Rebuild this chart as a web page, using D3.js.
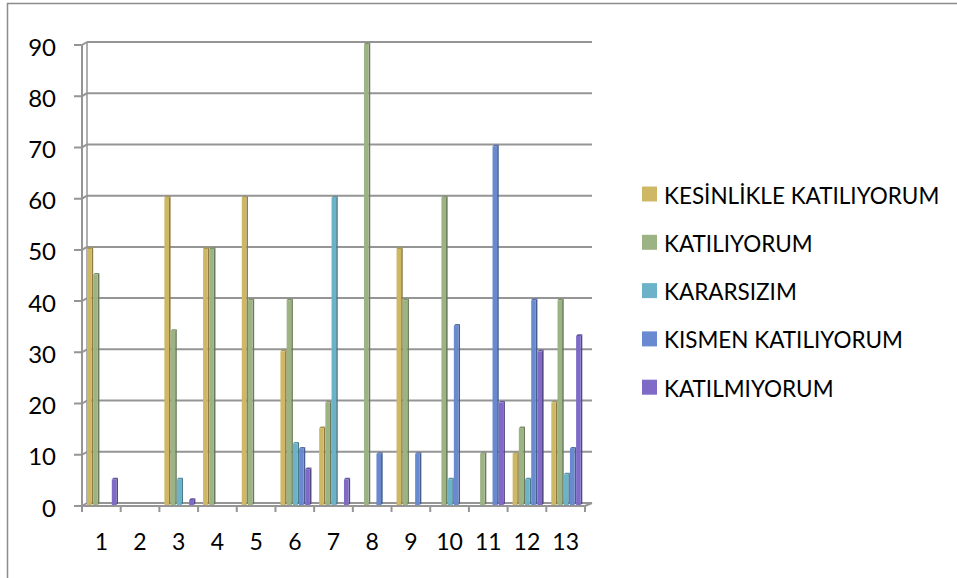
<!DOCTYPE html>
<html>
<head>
<meta charset="utf-8">
<script src="https://cdn.jsdelivr.net/npm/d3@7"></script>
<style>
  body { margin: 0; background: #fff; }
  text { font-family: Lato, "Noto Sans", sans-serif; fill: #000; }
</style>
</head>
<body>
<svg id="chart" width="957" height="578"></svg>
<script>
// ------ DATA ------
const categories = ["1","2","3","4","5","6","7","8","9","10","11","12","13"]
const series_names = ["KESİNLİKLE KATILIYORUM", "KATILIYORUM", "KARARSIZIM", "KISMEN KATILIYORUM", "KATILMIYORUM"]
const kesinlikle = [50, 0, 60, 50, 60, 30, 15, 0, 50, 0, 0, 10, 20]
const katiliyorum = [45, 0, 34, 50, 40, 40, 20, 90, 40, 60, 10, 15, 40]
const kararsizim = [0, 0, 5, 0, 0, 12, 60, 0, 0, 5, 0, 5, 6]
const kismen = [0, 0, 0, 0, 0, 11, 0, 10, 10, 35, 70, 40, 11]
const katilmiyorum = [5, 0, 1, 0, 0, 7, 5, 0, 0, 0, 20, 30, 33]
const y_ticks = [0, 10, 20, 30, 40, 50, 60, 70, 80, 90]
const colors = ["#cfb865", "#9cb384", "#6cb3c9", "#6989d1", "#7f6bc7"]

const all_series = [kesinlikle, katiliyorum, kararsizim, kismen, katilmiyorum]

const svg = d3.select("#chart")
const grid_col = "#959595"
const dx = 5, dy = -3   // depth of the 3D wall

// outer frame
svg.append("rect")
  .attr("x", 7.5).attr("y", 3.5).attr("width", 1000).attr("height", 1000)
  .attr("fill", "none").attr("stroke", "#8c8c8c").attr("stroke-width", 1.5)

// scales
const x = d3.scaleBand().domain(categories).range([82, 585]).padding(0)
const y = d3.scaleLinear().domain([0, 90]).range([506, 45])

// back gridlines
svg.append("g").selectAll("line").data(y_ticks).join("line")
  .attr("x1", 82 + dx).attr("x2", 585 + dx + 2)
  .attr("y1", d => y(d) + dy).attr("y2", d => y(d) + dy)
  .attr("stroke", grid_col).attr("stroke-width", 2)

// left wall connectors + ticks
svg.append("g").selectAll("path").data(y_ticks).join("path")
  .attr("d", d => `M74,${y(d)} L82,${y(d)} L${82 + dx},${y(d) + dy}`)
  .attr("fill", "none").attr("stroke", grid_col).attr("stroke-width", 2)

svg.append("line")
  .attr("x1", 82).attr("x2", 82).attr("y1", y(90)).attr("y2", y(0))
  .attr("stroke", grid_col).attr("stroke-width", 2)
svg.append("line")
  .attr("x1", 82 + dx).attr("x2", 82 + dx).attr("y1", y(90) + dy).attr("y2", y(0) + dy)
  .attr("stroke", grid_col).attr("stroke-width", 1.5)

// floor front edge + right corner
svg.append("path")
  .attr("d", `M82,${y(0)} L585,${y(0)} L${585 + dx + 2},${y(0) + dy}`)
  .attr("fill", "none").attr("stroke", grid_col).attr("stroke-width", 2)

// x ticks
const x_tick_pos = categories.map(c => x(c)).concat([585])
svg.append("g").selectAll("line").data(x_tick_pos).join("line")
  .attr("x1", d => d).attr("x2", d => d)
  .attr("y1", y(0)).attr("y2", y(0) + 6)
  .attr("stroke", grid_col).attr("stroke-width", 2)

// y labels
svg.append("g").selectAll("text").data(y_ticks).join("text")
  .attr("x", 56).attr("y", d => y(d) + 1)
  .attr("text-anchor", "end").attr("dominant-baseline", "central")
  .style("font-size", "24px")
  .text(d => d)

// x labels
svg.append("g").selectAll("text").data(categories).join("text")
  .attr("x", d => x(d) + x.bandwidth() / 2).attr("y", 541)
  .attr("text-anchor", "middle").attr("dominant-baseline", "central")
  .style("font-size", "23px")
  .text(d => d)

// bars (with a little 3D side and top)
const bw = 6.2, side = 1.6, lift = 1.6
const bars = []
all_series.forEach((s, si) => {
  s.forEach((v, ci) => {
    if (v > 0) bars.push({ si: si, cat: categories[ci], v: v })
  })
})

const bar_g = svg.append("g")
bars.forEach(b => {
  const x0 = x(b.cat) + 5 + b.si * bw
  const y0 = y(b.v) - 1
  const yb = y(0) - 1
  const c = d3.color(colors[b.si])
  // side
  bar_g.append("path")
    .attr("d", `M${x0 + bw - side},${y0} L${x0 + bw},${y0 - lift} L${x0 + bw},${yb - lift} L${x0 + bw - side},${yb} Z`)
    .attr("fill", c.darker(1.1))
  // top
  bar_g.append("path")
    .attr("d", `M${x0},${y0} L${x0 + side},${y0 - lift} L${x0 + bw},${y0 - lift} L${x0 + bw - side},${y0} Z`)
    .attr("fill", c.darker(0.6))
  // front
  bar_g.append("rect")
    .attr("x", x0).attr("y", y0)
    .attr("width", bw - side).attr("height", yb - y0)
    .attr("fill", c)
})

// legend
const legend = svg.append("g").selectAll("g").data(series_names).join("g")
  .attr("transform", (d, i) => `translate(642, ${194 + i * 48.3})`)
legend.append("rect")
  .attr("x", 0).attr("y", -7.5).attr("width", 15).attr("height", 15)
  .attr("fill", (d, i) => colors[i])
legend.append("text")
  .attr("x", 22).attr("y", 1)
  .attr("dominant-baseline", "central")
  .style("font-size", "22.5px")
  .text(d => d)
</script>
</body>
</html>
